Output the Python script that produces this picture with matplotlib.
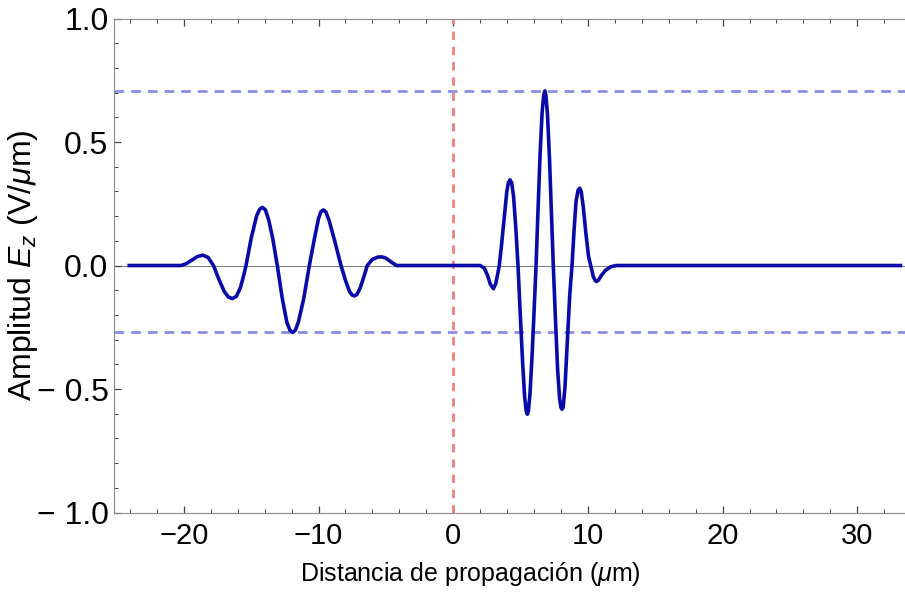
"""Pulse propagation plot: E_z amplitude vs propagation distance."""
import numpy as np
import matplotlib
matplotlib.use("Agg")
import matplotlib.pyplot as plt

# curve (um, V/um)
left_x = [-24.05, -20.2, -19.8, -19.4, -19.0, -18.6, -18.2, -17.8, -17.4, -17.0,
          -16.7, -16.4, -16.1, -15.8, -15.6, -15.38, -15.0, -14.6, -14.37, -14.17,
          -13.95, -13.7, -13.4, -13.06, -12.7, -12.35, -12.12, -11.92, -11.72, -11.5,
          -11.1, -10.68, -10.3, -10.0, -9.82, -9.64, -9.45, -9.2, -8.8, -8.33,
          -8.0, -7.7, -7.5, -7.34, -7.15, -6.9, -6.6, -6.38, -6.0, -5.6,
          -5.31, -5.0, -4.6, -4.2]
left_y = [0.0, 0.0, 0.008, 0.022, 0.036, 0.042, 0.033, 0.0, -0.055, -0.105,
          -0.127, -0.134, -0.125, -0.09, -0.05, 0.0, 0.11, 0.2, 0.228, 0.235,
          0.226, 0.185, 0.11, 0.0, -0.13, -0.23, -0.262, -0.271, -0.262, -0.23,
          -0.135, 0.0, 0.11, 0.19, 0.218, 0.225, 0.217, 0.18, 0.1, 0.0,
          -0.06, -0.105, -0.12, -0.123, -0.118, -0.09, -0.04, 0.0, 0.025, 0.034,
          0.035, 0.03, 0.014, 0.0]

right_x = [2.0, 2.3, 2.55, 2.75, 2.98, 3.15, 3.3, 3.42, 3.6, 3.8,
           3.98, 4.1, 4.22, 4.34, 4.48, 4.65, 4.81, 4.98, 5.15, 5.3,
           5.42, 5.5, 5.58, 5.7, 5.85, 6.0, 6.15, 6.3, 6.45, 6.6,
           6.72, 6.8, 6.88, 7.0, 7.15, 7.3, 7.43, 7.6, 7.75, 7.9,
           8.0, 8.08, 8.16, 8.3, 8.45, 8.65, 8.82, 8.98, 9.12, 9.27,
           9.39, 9.5, 9.65, 9.85, 10.05, 10.21, 10.4, 10.55, 10.65, 10.8,
           11.0, 11.3, 11.7, 12.1, 33.2]
right_y = [0.0, -0.01, -0.04, -0.075, -0.094, -0.075, -0.035, 0.0, 0.09, 0.2,
           0.3, 0.336, 0.347, 0.335, 0.28, 0.15, 0.0, -0.2, -0.39, -0.53,
           -0.59, -0.602, -0.59, -0.52, -0.37, -0.19, 0.0, 0.23, 0.45, 0.62,
           0.69, 0.707, 0.69, 0.61, 0.43, 0.2, 0.0, -0.23, -0.42, -0.54,
           -0.575, -0.582, -0.575, -0.49, -0.33, -0.12, 0.0, 0.15, 0.26, 0.305,
           0.313, 0.3, 0.24, 0.13, 0.035, 0.0, -0.045, -0.062, -0.065, -0.058,
           -0.04, -0.02, -0.005, 0.0, 0.0]

x_ticks = [-20, -10, 0, 10, 20, 30]
y_ticks = [-1.0, -0.5, 0.0, 0.5, 1.0]
y_max_line = 0.707
y_min_line = -0.271
x_origin = 0.0

plt.rcParams.update({
    "font.family": "Liberation Sans",
    "mathtext.fontset": "custom",
    "mathtext.rm": "Liberation Sans",
    "mathtext.it": "Liberation Sans:italic",
})

fig = plt.figure(figsize=(9.05, 5.99), dpi=100)
ax = fig.add_axes([0.126, 0.1444, 0.874, 0.8247])

ax.axhline(0, color="#808080", lw=0.8, zorder=1)
ax.axvline(x_origin, color="#f08080", lw=2, ls=(0, (3, 2.5)), zorder=2)
for yv in (y_max_line, y_min_line):
    ax.axhline(yv, color="#8c8ce6", lw=2, ls=(0, (3.5, 2.5)), zorder=2)

x = left_x + [-2.0] + right_x
y = left_y + [0.0] + right_y
ax.plot(x, y, color="#0a0aa8", lw=2.6, zorder=3, solid_joinstyle="round")

ax.set_xlim(-25.18, 33.54)
ax.set_ylim(-1, 1)
ax.set_xticks(x_ticks)
ax.set_xticks(np.arange(-24, 34, 2), minor=True)
ax.set_yticks(y_ticks)
ax.set_yticks(np.arange(-1.0, 1.01, 0.1), minor=True)
ax.set_xticklabels([f"{v:d}".replace("-", "\u2212") for v in x_ticks], fontsize=21)
ax.set_yticklabels([f"{v:.1f}".replace("-", "\u2212 ") for v in y_ticks], fontsize=23)

for s in ("left", "bottom", "top"):
    ax.spines[s].set_color("#8a8a8a")
ax.spines["right"].set_visible(False)
ax.tick_params(which="both", direction="in", top=True, color="#444444")
ax.tick_params(which="major", length=5, width=0.9)
ax.tick_params(which="minor", length=3, width=0.7)
ax.tick_params(axis="x", pad=7)
ax.tick_params(axis="y", pad=4)

ax.set_xlabel(r"Distancia de propagación ($\mu$m)", fontsize=18)
ax.xaxis.set_label_coords(0.4507, -0.097)
ax.set_ylabel(r"Amplitud $E_z$ (V/$\mu$m)", fontsize=23)
ax.yaxis.set_label_coords(-0.0935, 0.5)

fig.savefig("out.png", dpi=100)
